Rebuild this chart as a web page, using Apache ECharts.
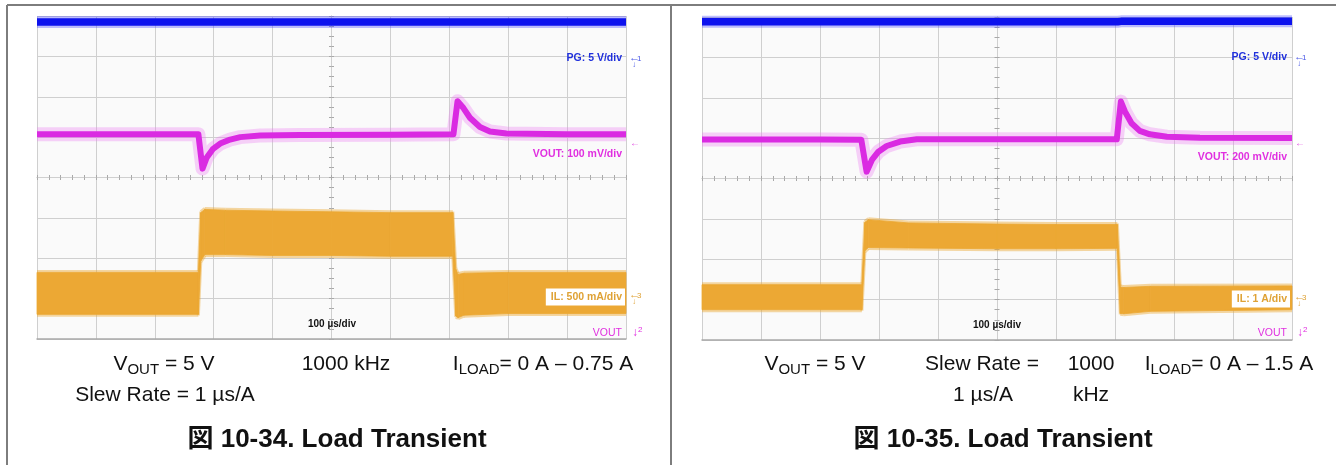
<!DOCTYPE html>
<html><head><meta charset="utf-8">
<script src="https://cdn.jsdelivr.net/npm/echarts@6/dist/echarts.min.js"></script>
<style>html,body{margin:0;padding:0;background:#fff;}#c{width:1336px;height:465px;}</style>
</head><body><div id="c"></div>
<script>
// ===== Figure 10-34 (left): time in µs (100 µs/div), PG in V, VOUT deviation in mV, IL in A =====
const L_pg_t    = [-500, 500];
const L_pg_v    = [4.6, 4.6];
const L_vout_t  = [-500, -300, -226, -219, -212, -201, -189, -172, -155, -121, -53, 100, 207, 214, 224, 235, 252, 269, 297, 400, 500];
const L_vout_mv = [0, 0, 0, -85, -58, -36, -23, -13, -7, -3, -2, -1, 0, 82, 65, 41, 18, 7, 2, 0, 0];
const L_il_t    = [-500, -226, -222, -215, -180, -100, 0, 100, 206, 211, 215, 225, 300, 500];
const L_il_max  = [0.26, 0.26, 1.00, 1.04, 1.03, 1.02, 1.01, 1.00, 1.00, 0.30, 0.235, 0.25, 0.26, 0.26];
const L_il_min  = [-0.26, -0.26, 0.40, 0.48, 0.48, 0.47, 0.47, 0.46, 0.46, -0.28, -0.30, -0.27, -0.25, -0.25];

// ===== Figure 10-35 (right) =====
const R_pg_t    = [-500, -228, -224, 205, 210, 500];
const R_pg_v    = [4.6, 4.6, 4.62, 4.62, 4.66, 4.66];
const R_vout_t  = [-500, -300, -230, -221, -212, -201, -187, -164, -136, -60, 100, 203, 210, 217, 228, 242, 259, 288, 344, 500];
const R_vout_mv = [-3, -3, -4, -162, -104, -63, -35, -13, -2, -2, -2, -2, 185, 135, 78, 40, 23, 11, 6, 5];
const R_il_t    = [-500, -229, -224, -218, -150, 0, 100, 204, 209, 215, 260, 500];
const R_il_max  = [0.31, 0.31, 1.85, 1.92, 1.84, 1.81, 1.80, 1.80, 0.25, 0.24, 0.27, 0.28];
const R_il_min  = [-0.31, -0.31, 1.15, 1.23, 1.22, 1.20, 1.20, 1.21, -0.40, -0.41, -0.35, -0.31];

// scope settings: units/div and channel offsets (in divisions)
const scales = { left: { pg: 5, vout: 100, il: 0.5 }, right: { pg: 5, vout: 200, il: 1 } };
const offsets = { left: { pg: 2.93, vout: 1.07, il: -2.87 }, right: { pg: 2.96, vout: 0.98, il: -2.94 } };
const timeMin = -500, timeMax = 500, timeDiv = 100, divMin = -4, divMax = 4;

// labels
const L_labels = { pg: 'PG: 5 V/div', vout: 'VOUT: 100 mV/div', il: 'IL: 500 mA/div', time: '100 µs/div', ch: 'VOUT' };
const R_labels = { pg: 'PG: 5 V/div', vout: 'VOUT: 200 mV/div', il: 'IL: 1 A/div', time: '100 µs/div', ch: 'VOUT' };

const zip = (a, b) => a.map((v, i) => [v, b[i]]);
const GRID_LINE = '#cfcfcf';
const FONT = '"Liberation Sans", Arial, sans-serif';
const ORANGE = '#eca834';

const grids = [
  { left: 37, top: 16, width: 589, height: 323 },
  { left: 702, top: 17, width: 590, height: 323 }
];
const panels = [
  { key: 'left', pg: [L_pg_t, L_pg_v], vout: [L_vout_t, L_vout_mv], il: [L_il_t, L_il_min, L_il_max] },
  { key: 'right', pg: [R_pg_t, R_pg_v], vout: [R_vout_t, R_vout_mv], il: [R_il_t, R_il_min, R_il_max] }
];

function bandRender(params, api) {
  const i = params.dataIndexInside;
  if (i >= params.dataInsideLength - 1) return null;
  const a = api.coord([api.value(0, i), api.value(2, i)]);
  const b = api.coord([api.value(0, i + 1), api.value(2, i + 1)]);
  const c = api.coord([api.value(0, i + 1), api.value(1, i + 1)]);
  const d = api.coord([api.value(0, i), api.value(1, i)]);
  return {
    type: 'group',
    children: [
      { type: 'polygon', shape: { points: [a, b, c, d] }, style: { fill: ORANGE, stroke: ORANGE, lineWidth: 0.8 } },
      { type: 'line', shape: { x1: a[0], y1: a[1] - 1, x2: b[0], y2: b[1] - 1 }, style: { stroke: 'rgba(236,168,52,0.45)', lineWidth: 3 } },
      { type: 'line', shape: { x1: d[0], y1: d[1] + 1, x2: c[0], y2: c[1] + 1 }, style: { stroke: 'rgba(236,168,52,0.45)', lineWidth: 3 } }
    ]
  };
}

const xAxis = [], yAxis = [], series = [];
panels.forEach((p, gi) => {
  const xb = gi * 3, yb = gi * 6;
  const sc = scales[p.key], off = offsets[p.key];
  xAxis.push({ gridIndex: gi, type: 'value', min: timeMin, max: timeMax, interval: timeDiv,
    axisLine: { show: true, onZero: false, lineStyle: { color: '#a9a9a9', width: 1.5 } },
    axisTick: { show: false }, axisLabel: { show: false },
    splitLine: { show: true, lineStyle: { color: GRID_LINE, width: 1 } } });
  [true, false].forEach(inside => xAxis.push({ gridIndex: gi, type: 'value', min: timeMin, max: timeMax, interval: 20,
    axisLine: { show: true, onZero: true, onZeroAxisIndex: yb, lineStyle: { color: GRID_LINE } },
    axisTick: { show: true, inside: inside, length: 2.5, lineStyle: { color: '#a8a8a8' } },
    axisLabel: { show: false }, splitLine: { show: false } }));
  yAxis.push({ gridIndex: gi, type: 'value', min: divMin, max: divMax, interval: 1,
    axisLine: { show: false }, axisTick: { show: false }, axisLabel: { show: false },
    splitLine: { show: true, lineStyle: { color: GRID_LINE, width: 1 } } });
  [true, false].forEach(inside => yAxis.push({ gridIndex: gi, type: 'value', min: divMin, max: divMax, interval: 0.25,
    axisLine: { show: true, onZero: true, onZeroAxisIndex: xb, lineStyle: { color: GRID_LINE } },
    axisTick: { show: true, inside: inside, length: 2.5, lineStyle: { color: '#a8a8a8' } },
    axisLabel: { show: false }, splitLine: { show: false } }));
  ['pg', 'vout', 'il'].forEach(ch => yAxis.push({ gridIndex: gi, type: 'value', show: false,
    min: (divMin - off[ch]) * sc[ch], max: (divMax - off[ch]) * sc[ch] }));

  const base = { type: 'line', xAxisIndex: xb, symbol: 'none', silent: true, animation: false };
  // IL band (ripple envelope)
  const [it, imin, imax] = p.il;
  series.push({ type: 'custom', name: 'IL-' + gi, xAxisIndex: xb, yAxisIndex: yb + 5, silent: true, animation: false,
    renderItem: bandRender, encode: { x: 0, y: [1, 2] },
    data: it.map((t, i) => [t, imin[i], imax[i]]) });
  // VOUT
  const vd = zip(p.vout[0], p.vout[1]);
  series.push(Object.assign({}, base, { yAxisIndex: yb + 4, data: vd, lineStyle: { width: 14, color: 'rgba(236,120,242,0.33)', join: 'round' } }));
  series.push(Object.assign({}, base, { yAxisIndex: yb + 4, data: vd, lineStyle: { width: 6, color: '#da2ae2', join: 'round' } }));
  // PG
  const pd = zip(p.pg[0], p.pg[1]);
  series.push(Object.assign({}, base, { yAxisIndex: yb + 3, data: pd, lineStyle: { width: 12, color: 'rgba(70,70,255,0.35)' } }));
  series.push(Object.assign({}, base, { yAxisIndex: yb + 3, data: pd, lineStyle: { width: 7.5, color: '#0d12ee' } }));
});

// ---- frame and text graphics ----
const g = [];
const line = (x1, y1, x2, y2) => g.push({ type: 'line', silent: true, shape: { x1, y1, x2, y2 }, style: { stroke: '#7d7d7d', lineWidth: 2 } });
line(7, 5, 1336, 5); line(7, 5, 7, 465); line(671, 5, 671, 465);

const CAP = 21;
function txt(x, y, text, opt) {
  g.push({ type: 'text', silent: true, z: 100, style: Object.assign({ x, y, text, fill: '#111',
    font: CAP + 'px ' + FONT, textAlign: 'center', align: 'center', textVerticalAlign: 'middle', verticalAlign: 'middle' }, opt || {}) });
}
const subRich = { n: { fontSize: CAP, fontFamily: FONT, lineHeight: 26, fill: '#111' },
                  s: { fontSize: 15, fontFamily: FONT, lineHeight: 14, verticalAlign: 'bottom', fill: '#111' } };
function capRich(x, y, main, sub, rest) { txt(x, y, '{n|' + main + '}{s|' + sub + '}{n|' + rest + '}', { rich: subRich }); }
const TITLE = 'bold 26px "Liberation Sans", Arial, "Noto Sans CJK JP", sans-serif';

// Left captions
capRich(164, 364, 'V', 'OUT', ' = 5 V');
txt(346, 364, '1000 kHz');
capRich(543, 364, 'I', 'LOAD', '= 0 A – 0.75 A');
txt(165, 395, 'Slew Rate = 1 µs/A');
txt(337, 440, '図 10-34. Load Transient', { font: TITLE });
// Right captions
capRich(815, 364, 'V', 'OUT', ' = 5 V');
txt(982, 364, 'Slew Rate =');
txt(1091, 364, '1000');
capRich(1229, 364, 'I', 'LOAD', '= 0 A – 1.5 A');
txt(983, 395, '1 µs/A');
txt(1091, 395, 'kHz');
txt(1003, 440, '図 10-35. Load Transient', { font: TITLE });

// Scope labels
const BLUE = '#2030dc', MAG = '#e030e0', ORG = '#dfa235';
function scopeLabels(lb, rx, mx, ys) {
  const B = 'bold 10.5px ' + FONT;
  const L = { textAlign: 'left', align: 'left' };
  txt(rx, ys.pg, lb.pg, { font: B, fill: BLUE, textAlign: 'right', align: 'right' });
  txt(rx, ys.vout, lb.vout, { font: B, fill: MAG, textAlign: 'right', align: 'right' });
  txt(rx + 3, ys.il, lb.il, { font: B, fill: ORG, textAlign: 'right', align: 'right', backgroundColor: '#fff', padding: [3, 3, 3, 5] });
  txt(ys.tx, ys.time, lb.time, { font: 'bold 10px ' + FONT, fill: '#111' });
  txt(rx, ys.ch, lb.ch, { font: '10.5px ' + FONT, fill: MAG, textAlign: 'right', align: 'right' });
  txt(mx, ys.pg, '←', Object.assign({ font: 'bold 11px ' + FONT, fill: '#4a58e6' }, L));
  txt(mx + 8, ys.pg + 1, '1', Object.assign({ font: '8px ' + FONT, fill: '#4a58e6' }, L));
  txt(mx + 3, ys.pg + 7, '↓', Object.assign({ font: '8px ' + FONT, fill: '#4a58e6' }, L));
  txt(mx + 1, ys.vm, '←', Object.assign({ font: 'bold 10px ' + FONT, fill: '#e050e0' }, L));
  txt(mx, ys.il - 2, '←', Object.assign({ font: 'bold 11px ' + FONT, fill: ORG }, L));
  txt(mx + 8, ys.il - 1, '3', Object.assign({ font: '8px ' + FONT, fill: ORG }, L));
  txt(mx + 3, ys.il + 5, '↓', Object.assign({ font: '8px ' + FONT, fill: ORG }, L));
  txt(mx + 3, ys.ch, '↓', Object.assign({ font: '12px ' + FONT, fill: MAG }, L));
  txt(mx + 9, ys.ch - 3, '2', Object.assign({ font: '8px ' + FONT, fill: MAG }, L));
}
scopeLabels(L_labels, 622, 629, { pg: 58, vout: 154, il: 297, time: 324, tx: 332, ch: 333, vm: 143 });
scopeLabels(R_labels, 1287, 1294, { pg: 57, vout: 157, il: 299, time: 325, tx: 997, ch: 333, vm: 143 });

const chart = echarts.init(document.getElementById('c'), null, { renderer: 'canvas' });
chart.setOption({
  animation: false,
  backgroundColor: '#ffffff',
  grid: grids.map(gr => Object.assign({ show: true, backgroundColor: '#fafafa', borderWidth: 0, containLabel: false, outerBoundsMode: 'none' }, gr)),
  xAxis, yAxis, series,
  graphic: g
});
</script></body></html>
